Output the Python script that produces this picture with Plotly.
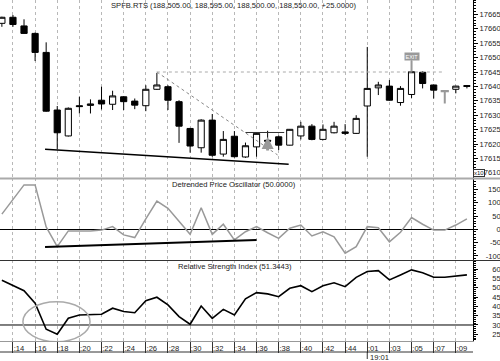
import plotly.graph_objects as go
from plotly.subplots import make_subplots

# ---------------- data ----------------
bar_index = list(range(43))
opens = [17661.9, 17664.0, 17661.0, 17658.4, 17651.8, 17631.8, 17622.8, 17633.3, 17633.4, 17635.2,
         17633.8, 17636.4, 17634.9, 17633.3, 17639.0, 17639.9, 17634.7, 17625.4, 17618.7, 17628.3,
         17616.5, 17622.7, 17615.5, 17619.0, 17621.3, 17622.5, 17619.6, 17622.8, 17626.2, 17621.6,
         17623.9, 17624.2, 17623.7, 17633.2, 17639.5, 17640.1, 17634.4, 17637.2, 17644.9, 17640.5,
         17638.3, 17639.0, 17640.3]
highs = [17664.2, 17664.8, 17663.3, 17658.7, 17655.3, 17633.2, 17632.7, 17636.4, 17635.5, 17639.9,
         17638.5, 17636.6, 17635.8, 17640.4, 17644.7, 17640.4, 17635.2, 17625.6, 17628.6, 17630.4,
         17624.5, 17624.5, 17620.5, 17623.8, 17624.6, 17623.0, 17625.2, 17627.7, 17626.9, 17626.8,
         17627.7, 17626.9, 17630.0, 17653.7, 17641.6, 17642.2, 17640.1, 17645.2, 17645.3, 17640.6,
         17638.5, 17640.2, 17640.5]
lows = [17660.7, 17660.7, 17658.3, 17648.8, 17631.2, 17618.2, 17622.6, 17630.6, 17630.6, 17632.0,
        17631.8, 17631.8, 17632.1, 17631.4, 17638.8, 17631.8, 17620.4, 17617.0, 17617.0, 17615.6,
        17615.6, 17615.3, 17615.2, 17615.6, 17617.9, 17617.9, 17619.5, 17621.6, 17621.3, 17621.3,
        17623.7, 17623.1, 17623.5, 17615.6, 17637.0, 17635.0, 17633.3, 17636.0, 17639.3, 17635.8,
        17634.1, 17637.6, 17639.3]
closes = [17664.0, 17661.5, 17658.4, 17651.8, 17631.4, 17623.9, 17632.4, 17633.0, 17633.9, 17633.9,
          17636.7, 17634.7, 17633.5, 17639.0, 17640.5, 17635.2, 17626.2, 17619.3, 17628.3, 17616.1,
          17621.6, 17615.6, 17619.4, 17623.7, 17621.0, 17619.6, 17625.1, 17626.2, 17621.6, 17625.1,
          17626.2, 17623.7, 17628.9, 17639.3, 17640.5, 17635.2, 17639.3, 17645.1, 17641.0, 17638.7,
          17638.4, 17640.1, 17640.0]
signal_bar = [40]  # gray candle

dpo_values = [57, 110, 167, 167, 9, -65, -6, -6, -6, -3,
              10, -21, -31, 39, 106, 79, 29, -19, 81, -19,
              19, -40, -9, 10, -13, -34, 4, 16, -25, -9,
              -28, -90, -65, 10, 6, -47, -11, 44, 19, -3,
              -3, 16, 39]
rsi_values = [54.0, 51.0, 48.4, 41.7, 27.7, 25.0, 33.6, 35.4, 35.8, 35.8,
              39.0, 37.2, 36.6, 43.0, 44.9, 40.8, 34.5, 30.4, 40.2, 33.6,
              38.4, 35.4, 44.0, 47.4, 46.7, 45.2, 49.7, 51.1, 47.9, 51.1,
              52.7, 50.6, 55.6, 58.7, 59.2, 54.2, 56.9, 59.6, 58.1, 55.6,
              55.6, 56.3, 56.9]

tick_index = [1, 3, 5, 7, 9, 11, 13, 15, 17, 19, 21, 23, 25, 27, 29, 31, 33, 35, 37, 39, 41]
tick_labels = [":14", ":16", ":18", ":20", ":22", ":24", ":26", ":28", ":30", ":32", ":34",
               ":36", ":38", ":40", ":42", ":44", ":01", ":03", ":05", ":07", ":09"]
session_label = "19:01"
session_index = 33

price_ticks = [17610, 17615, 17620, 17625, 17630, 17635, 17640, 17645, 17650, 17655, 17660, 17665]
dpo_ticks = [-100, -50, 0, 50, 100, 150]
rsi_ticks = [25, 30, 35, 40, 45, 50, 55, 60]

price_title = "SPFB.RTS (188,505.00, 188,595.00, 188,500.00, 188,550.00, +25.0000)"
dpo_title = "Detrended Price Oscillator (50.0000)"
rsi_title = "Relative Strength Index (51.3443)"

# drawn objects (data units)
price_trend_x = [3.9, 25.9]
price_trend_y = [17618.2, 17613.0]
price_dash_x = [14.0, 24.9]
price_dash_y = [17645.0, 17616.2]
level_dash_x = [14.0, 39.9]
level_dash_y = [17645.0, 17645.0]
box_line_x = [22.0, 25.5]
box_line_y = [17624.0, 17624.0]
dpo_trend_x = [3.9, 23.0]
dpo_trend_y = [-66.6, -40.2]
rsi_circle_x = [1.9, 7.96]
rsi_circle_y = [21.0, 42.5]
buy_arrow = (24, 17622.4)
exit_mark = (37, 17645.2)
rsi_level = 30

# ---------------- figure ----------------
W, H = 500, 361
ML, MR, MT, MB = 0, 27, 0, 20
PH = H - MT - MB  # 341


def pfrac(px):
    return 1 - px / PH


fig = make_subplots(rows=3, cols=1, shared_xaxes=True, vertical_spacing=0)

main_idx = [i for i in bar_index if i not in signal_bar]
fig.add_trace(go.Candlestick(
    x=main_idx,
    open=[opens[i] for i in main_idx], high=[highs[i] for i in main_idx],
    low=[lows[i] for i in main_idx], close=[closes[i] for i in main_idx],
    increasing=dict(fillcolor="white", line=dict(color="black", width=1)),
    decreasing=dict(fillcolor="black", line=dict(color="black", width=1)),
    whiskerwidth=0, hoverinfo="skip"), row=1, col=1)
fig.add_trace(go.Candlestick(
    x=signal_bar,
    open=[opens[i] for i in signal_bar], high=[highs[i] for i in signal_bar],
    low=[lows[i] for i in signal_bar], close=[closes[i] for i in signal_bar],
    increasing=dict(fillcolor="#999999", line=dict(color="#999999", width=2)),
    decreasing=dict(fillcolor="#999999", line=dict(color="#999999", width=2)),
    whiskerwidth=0, hoverinfo="skip"), row=1, col=1)

fig.add_trace(go.Scatter(x=price_trend_x, y=price_trend_y, mode="lines",
                         line=dict(color="black", width=1.5)), row=1, col=1)
fig.add_trace(go.Scatter(x=price_dash_x, y=price_dash_y, mode="lines",
                         line=dict(color="#888888", width=1, dash="3px,3px")), row=1, col=1)
fig.add_trace(go.Scatter(x=level_dash_x, y=level_dash_y, mode="lines",
                         line=dict(color="#aaaaaa", width=1, dash="3px,3px")), row=1, col=1)
fig.add_trace(go.Scatter(x=box_line_x, y=box_line_y, mode="lines",
                         line=dict(color="#333333", width=1)), row=1, col=1)

fig.add_trace(go.Scatter(x=bar_index, y=dpo_values, mode="lines",
                         line=dict(color="#999999", width=1.5)), row=2, col=1)
fig.add_trace(go.Scatter(x=dpo_trend_x, y=dpo_trend_y, mode="lines",
                         line=dict(color="black", width=2)), row=2, col=1)

fig.add_trace(go.Scatter(x=bar_index, y=rsi_values, mode="lines",
                         line=dict(color="black", width=1.6)), row=3, col=1)

fig.add_shape(type="line", xref="x3", yref="y3", x0=-1, x1=43, y0=rsi_level, y1=rsi_level,
              line=dict(color="black", width=1), layer="below")
fig.add_shape(type="circle", xref="x3", yref="y3",
              x0=rsi_circle_x[0], x1=rsi_circle_x[1], y0=rsi_circle_y[0], y1=rsi_circle_y[1],
              line=dict(color="#aaaaaa", width=1.5))

# panel separators
fig.add_shape(type="line", xref="paper", yref="paper", x0=0, x1=W / (W - MR), y0=pfrac(178.5), y1=pfrac(178.5),
              line=dict(color="#aaaaaa", width=2))
fig.add_shape(type="line", xref="paper", yref="paper", x0=0, x1=W / (W - MR), y0=pfrac(260.5), y1=pfrac(260.5),
              line=dict(color="#333333", width=1))
# bottom line of time scale
fig.add_shape(type="line", xref="paper", yref="paper", x0=0, x1=1, y0=pfrac(352), y1=pfrac(352),
              line=dict(color="#333333", width=1))
fig.add_shape(type="line", xref="x3", yref="paper", x0=session_index, x1=session_index,
              y0=pfrac(352), y1=pfrac(359), line=dict(color="#333333", width=1))

font = "Liberation Sans, Arial, sans-serif"
fs = 7.6

fig.add_annotation(xref="paper", yref="paper", x=233 / (W - MR), y=pfrac(5.5), text=price_title,
                   showarrow=False, font=dict(family=font, size=fs, color="#222"), xanchor="center", yanchor="middle")
fig.add_annotation(xref="paper", yref="paper", x=233.5 / (W - MR), y=pfrac(184), text=dpo_title,
                   showarrow=False, font=dict(family=font, size=fs, color="#222"), xanchor="center", yanchor="middle")
fig.add_annotation(xref="paper", yref="paper", x=234.5 / (W - MR), y=pfrac(266.7), text=rsi_title,
                   showarrow=False, font=dict(family=font, size=fs, color="#222"), xanchor="center", yanchor="middle")
fig.add_annotation(xref="x3", yref="paper", x=session_index, y=pfrac(357), text=session_label,
                   showarrow=False, font=dict(family=font, size=fs, color="#222"), xanchor="left",
                   yanchor="middle", xshift=1)
fig.add_annotation(xref="paper", yref="paper", x=1, y=pfrac(173), text="x10", showarrow=False,
                   font=dict(family=font, size=6, color="#222"), xanchor="left", yanchor="middle",
                   bordercolor="#333", borderwidth=1, borderpad=0, bgcolor="white")

# buy arrow
fig.add_annotation(xref="x", yref="y", x=buy_arrow[0], y=buy_arrow[1], text="", showarrow=True,
                   ax=0, ay=15, arrowhead=2, arrowsize=0.8, arrowwidth=3, arrowcolor="#999999", standoff=0)
# exit marker
fig.add_annotation(xref="x", yref="y", x=exit_mark[0], y=exit_mark[1], text="EXIT", showarrow=True,
                   ax=0, ay=-15, arrowhead=0, arrowwidth=2, arrowcolor="#999999",
                   font=dict(family=font, size=5.5, color="white"), bgcolor="#999999", borderpad=0.5)

xr = [-0.17, 42.55]
grid = dict(showgrid=True, gridcolor="#b8b8b8", griddash="3px,3px", gridwidth=1,
            tickmode="array", tickvals=tick_index, range=xr, zeroline=False)
fig.update_xaxes(**grid, rangeslider_visible=False)
fig.update_xaxes(showticklabels=False, ticks="", row=1, col=1)
fig.update_xaxes(showticklabels=False, ticks="", row=2, col=1)
fig.update_xaxes(row=3, col=1, showticklabels=True, ticktext=tick_labels, ticks="outside", ticklen=11,
                 tickcolor="#333", ticklabelshift=6, ticklabelstandoff=-11,
                 tickfont=dict(family=font, size=fs, color="#222"), showline=True, linecolor="#999", linewidth=1)


def pad(labels, width):
    out = []
    for s in labels:
        s = str(s)
        n = sum(1 for c in s if c.isdigit()) + (0.6 if s.startswith("-") else 0)
        out.append("\u00a0" * int(round((width - n) * 2)) + s)
    return out


yax = dict(side="right", showline=True, linecolor="black", linewidth=1, ticks="outside", ticklen=4,
           tickcolor="black", showgrid=False, zeroline=False,
           tickfont=dict(family=font, size=fs, color="#222"), tickmode="array")
fig.update_yaxes(**yax)
fig.update_yaxes(row=1, col=1, range=[17608.2, 17670.0], tickvals=price_ticks,
                 ticktext=[str(v) for v in price_ticks],
                 minor=dict(dtick=1, ticklen=2, ticks="outside", tickcolor="black"),
                 domain=[pfrac(178), 1])
fig.update_yaxes(row=2, col=1, range=[-115.4, 192.9], tickvals=dpo_ticks, ticktext=pad(dpo_ticks, 5),
                 minor=dict(dtick=10, ticklen=2, ticks="outside", tickcolor="black"),
                 zeroline=True, zerolinecolor="black", zerolinewidth=1,
                 domain=[pfrac(260), pfrac(178)])
fig.update_yaxes(row=3, col=1, range=[21.4, 64.9], tickvals=rsi_ticks, ticktext=pad(rsi_ticks, 5),
                 minor=dict(dtick=1, ticklen=2, ticks="outside", tickcolor="black"),
                 domain=[0, pfrac(260)])

fig.update_layout(width=W, height=H, margin=dict(l=ML, r=MR, t=MT, b=MB),
                  paper_bgcolor="white", plot_bgcolor="white", showlegend=False,
                  boxgap=0.2, font=dict(family=font, size=fs))

fig.write_html("out.html", config={"displayModeBar": False},
               post_script="document.body.style.margin='0';")
